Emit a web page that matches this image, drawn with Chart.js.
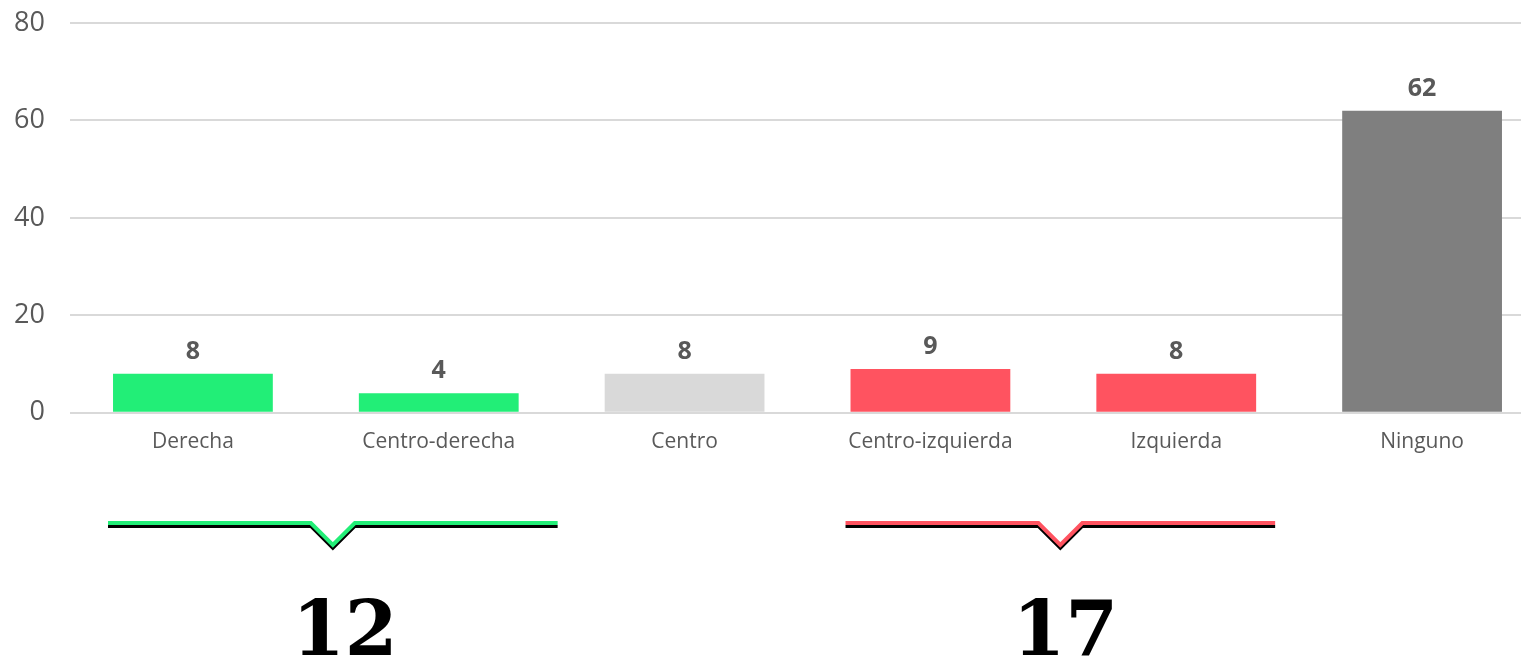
<!DOCTYPE html>
<html>
<head>
<meta charset="utf-8">
<script src="https://cdn.jsdelivr.net/npm/chart.js@4"></script>
<style>
  html, body { margin: 0; padding: 0; background: #fff; overflow: hidden; }
  #wrap { width: 1545px; height: 671px; }
</style>
</head>
<body>
<div id="wrap"><canvas id="myChart"></canvas></div>
<script>
const CATEGORIES = ['Derecha', 'Centro-derecha', 'Centro', 'Centro-izquierda', 'Izquierda', 'Ninguno'];
const VALUES = [8, 4, 8, 9, 8, 62];
const BAR_COLORS = ['#22EE77', '#22EE77', '#D9D9D9', '#FF5360', '#FF5360', '#7F7F7F'];
const Y_TICKS = [0, 20, 40, 60, 80];

// groups summed under the chart: first index, last index, color, right overhang, number shift
const GROUPS = [
  [0, 1, '#22EE77', 39, 12],
  [3, 4, '#FF5360', 19, 5],
];

const TEXT_GRAY = '#595959';

const valueLabels = {
  id: 'valueLabels',
  afterDatasetsDraw(chart) {
    const { ctx } = chart;
    const meta = chart.getDatasetMeta(0);
    ctx.save();
    ctx.font = 'bold 25px "Open Sans", sans-serif';
    ctx.fillStyle = TEXT_GRAY;
    ctx.textAlign = 'center';
    ctx.textBaseline = 'alphabetic';
    meta.data.forEach((bar, i) => {
      ctx.fillText(String(VALUES[i]), bar.x, bar.y - 15);
    });
    ctx.restore();
  },
};

const brackets = {
  id: 'brackets',
  afterDraw(chart) {
    const { ctx } = chart;
    const meta = chart.getDatasetMeta(0);
    GROUPS.forEach(([a, b, color, over, shift]) => {
      const barA = meta.data[a];
      const barB = meta.data[b];
      const x0 = barA.x - barA.width / 2 - 5;
      const x1 = barB.x + barB.width / 2 + over;
      const mid = (x0 + x1) / 2;
      const y = 523;

      const path = (dy) => {
        ctx.beginPath();
        ctx.moveTo(x0, y + dy);
        ctx.lineTo(mid - 22, y + dy);
        ctx.lineTo(mid, y + 22 + dy);
        ctx.lineTo(mid + 22, y + dy);
        ctx.lineTo(x1, y + dy);
        ctx.stroke();
      };
      ctx.save();
      ctx.lineJoin = 'miter';
      ctx.lineWidth = 3;
      ctx.strokeStyle = '#000';
      path(3.5);
      ctx.lineWidth = 4;
      ctx.strokeStyle = color;
      path(0);

      let sum = 0;
      for (let i = a; i <= b; i++) sum += VALUES[i];
      ctx.font = 'bold 76px "DejaVu Serif", serif';
      ctx.fillStyle = '#000';
      ctx.textAlign = 'center';
      ctx.textBaseline = 'alphabetic';
      ctx.fillText(String(sum), mid + shift, 655);
      ctx.restore();
    });
  },
};

const ctx = document.getElementById('myChart');

const myChart = new Chart(ctx, {
  type: 'bar',
  data: {
    labels: CATEGORIES,
    datasets: [{
      data: VALUES,
      backgroundColor: BAR_COLORS,
      borderWidth: 0,
      barPercentage: 0.65,
      categoryPercentage: 1,
    }],
  },
  options: {
    responsive: true,
    maintainAspectRatio: false,
    animation: false,
    devicePixelRatio: 1,
    layout: {
      padding: { top: 23, bottom: 207, left: 0, right: 0 },
    },
    plugins: {
      legend: { display: false },
      tooltip: { enabled: false },
    },
    scales: {
      x: {
        grid: { display: false },
        border: { display: false },
        ticks: {
          color: TEXT_GRAY,
          padding: 9,
          font: { family: '"Open Sans", sans-serif', size: 21 },
          maxRotation: 0,
        },
      },
      y: {
        min: Y_TICKS[0],
        max: Y_TICKS[Y_TICKS.length - 1],
        afterFit(scale) {
          scale.width = 70;
          scale.paddingTop = 0;
          scale.paddingBottom = 0;
        },
        afterBuildTicks(scale) { scale.ticks = Y_TICKS.map(v => ({ value: v })); },
        grid: { color: '#D9D9D9', lineWidth: 2, drawTicks: false },
        border: { display: false },
        ticks: {
          color: TEXT_GRAY,
          padding: 25,
          font: { family: '"Open Sans", sans-serif', size: 27 },
        },
      },
    },
  },
  plugins: [valueLabels, brackets],
});
</script>
</body>
</html>
